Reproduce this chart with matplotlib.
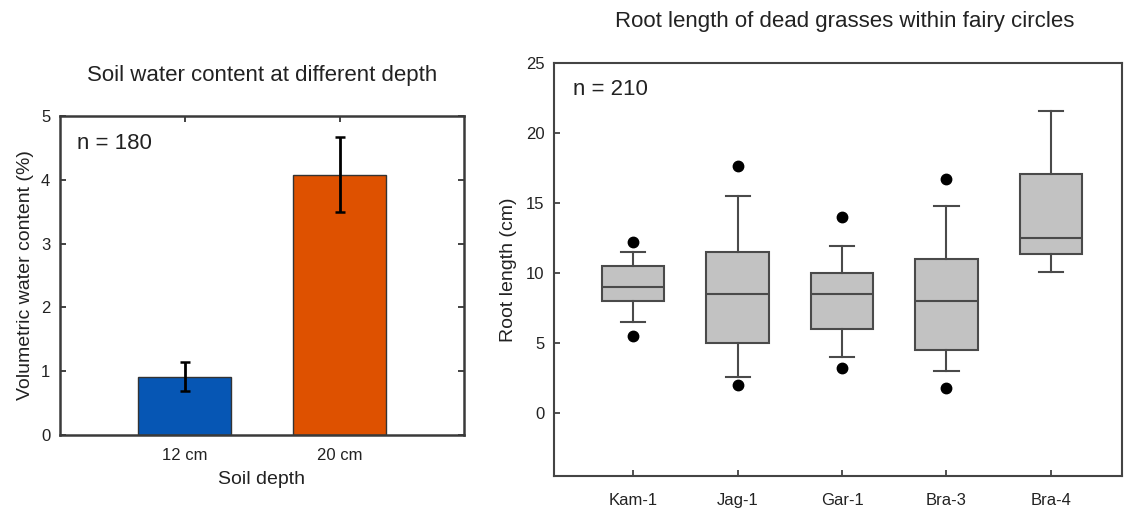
import matplotlib
matplotlib.use("Agg")
import matplotlib.pyplot as plt

plt.rcParams['font.family'] = ['Liberation Sans', 'DejaVu Sans']

# ---- Left panel data ----
depths = ["12 cm", "20 cm"]
water_mean = [0.91, 4.07]
water_err_low = [0.22, 0.57]
water_err_high = [0.24, 0.60]
bar_colors = ["#0656b4", "#de5100"]

# ---- Right panel data ----
sites = ["Kam-1", "Jag-1", "Gar-1", "Bra-3", "Bra-4"]
whisk_lo = [6.5, 2.6, 4.0, 3.0, 10.1]
q1 = [8.0, 5.0, 6.0, 4.5, 11.35]
med = [9.0, 8.5, 8.5, 8.0, 12.5]
q3 = [10.5, 11.5, 10.0, 11.0, 17.1]
whisk_hi = [11.5, 15.5, 11.95, 14.8, 21.55]
fliers = [[12.2, 5.5], [17.65, 2.0], [14.0, 3.25], [16.7, 1.8], []]

W, H = 1124, 511
fig = plt.figure(figsize=(W / 100, H / 100), dpi=100)

frame_col = "#3a3a3a"

# ---------------- Left axes ----------------
axL = fig.add_axes([60 / W, 1 - 435 / H, 404 / W, 319 / H])
xpos = [1, 2]
axL.bar(xpos, water_mean, width=0.6, color=bar_colors, edgecolor="#333333", linewidth=1.0, zorder=2)
axL.errorbar(xpos, water_mean, yerr=[water_err_low, water_err_high], fmt="none",
             ecolor="black", elinewidth=2.0, capsize=3.5, capthick=1.8, zorder=3)
axL.set_xlim(0.195, 2.8)
axL.set_ylim(0, 5)
axL.set_yticks(range(0, 6))
axL.set_xticks(xpos)
axL.set_xticklabels(depths)
axL.tick_params(direction="in", length=4, width=1.2, colors="#222222", labelsize=12,
                top=True, right=True, labelcolor="#222222")
axL.tick_params(axis="x", pad=9)
axL.tick_params(axis="y", pad=7)
for s in axL.spines.values():
    s.set_linewidth(1.8)
    s.set_color(frame_col)
axL.set_xlabel("Soil depth", fontsize=14, color="#222222", labelpad=6)
axL.set_ylabel("Volumetric water content (%)", fontsize=14, color="#222222", labelpad=5)
axL.text(0.042, 0.915, "n = 180", transform=axL.transAxes, fontsize=16, ha="left", va="center",
         color="#222222")
fig.text(262 / W, 1 - 75 / H, "Soil water content at different depth", fontsize=16,
         ha="center", va="center", color="#222222")

# ---------------- Right axes ----------------
axR = fig.add_axes([554 / W, 1 - 476 / H, 568 / W, 413 / H])
stats = []
for i, name in enumerate(sites):
    stats.append(dict(label=name, whislo=whisk_lo[i], q1=q1[i], med=med[i], q3=q3[i],
                      whishi=whisk_hi[i], fliers=fliers[i]))
positions = list(range(1, len(sites) + 1))
axR.bxp(stats, positions=positions, widths=0.6, capwidths=0.23, patch_artist=True,
        showfliers=True,
        boxprops=dict(facecolor="#c2c2c2", edgecolor="#4a4a4a", linewidth=1.5),
        medianprops=dict(color="#4a4a4a", linewidth=1.5),
        whiskerprops=dict(color="#4a4a4a", linewidth=1.5),
        capprops=dict(color="#4a4a4a", linewidth=1.5),
        flierprops=dict(marker="o", markerfacecolor="black", markeredgecolor="black",
                        markersize=7.5))
axR.set_xlim(0.243, 5.68)
axR.set_ylim(-4.5, 25)
axR.set_yticks(range(0, 26, 5))
axR.set_xticks(positions)
axR.set_xticklabels(sites)
axR.tick_params(direction="in", length=4, width=1.2, colors="#333333", labelsize=12,
                labelcolor="#222222")
axR.tick_params(axis="x", pad=12)
axR.tick_params(axis="y", pad=7)
for s in axR.spines.values():
    s.set_linewidth(1.5)
    s.set_color("#444444")
axR.set_ylabel("Root length (cm)", fontsize=14, color="#222222", labelpad=6)
axR.text(0.033, 0.935, "n = 210", transform=axR.transAxes, fontsize=16, ha="left", va="center",
         color="#222222")
fig.text(845 / W, 1 - 22 / H, "Root length of dead grasses within fairy circles", fontsize=16,
         ha="center", va="center", color="#222222")

fig.savefig("out.png", dpi=100)
